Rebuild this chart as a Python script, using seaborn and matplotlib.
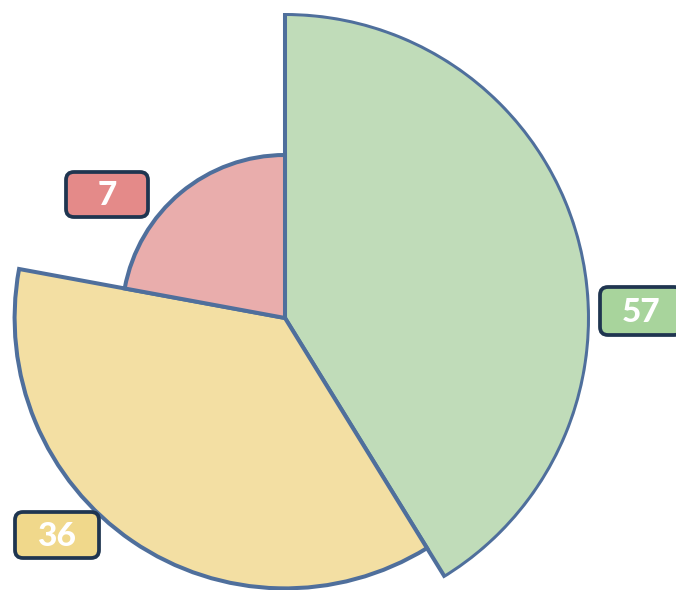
import numpy as np
import matplotlib
matplotlib.use("Agg")
import matplotlib.pyplot as plt
from matplotlib.patches import FancyBboxPatch
import seaborn as sns

# data
labels = ["57", "36", "7"]
z_values = [57, 36, 7]            # drives the radius
angle_shares = [41.2, 36.7, 22.1]  # drives the sector width
fill_colors = ["#c0dcb9", "#f3dfa3", "#e9adac"]
box_colors = ["#a8d49c", "#f0d88b", "#e48a89"]

sns.set_theme(style="white")
plt.rcParams["font.family"] = ["Lato", "DejaVu Sans"]

W, H = 676, 590
fig = plt.figure(figsize=(W / 100, H / 100), dpi=100)
fig.patch.set_facecolor("white")

# polar axes centred at (285, 318) px, outer radius 305 px
cx, cy, R = 285, 318, 305
ax = fig.add_axes([(cx - R) / W, (H - cy - R) / H, 2 * R / W, 2 * R / H],
                  projection="polar")
ax.set_theta_zero_location("N")
ax.set_theta_direction(-1)

r_min, r_max = 163, 304
z = np.array(z_values, dtype=float)
radii = r_min + np.sqrt((z - z.min()) / (z.max() - z.min())) * (r_max - r_min)

shares = np.array(angle_shares)
widths = shares / shares.sum() * 2 * np.pi
starts = np.concatenate([[0], np.cumsum(widths)[:-1]])

bars = ax.bar(starts, radii, width=widths, bottom=0, align="edge",
              color=fill_colors, edgecolor="#4f6f9c", linewidth=2.9)
for b in bars:
    b.set_joinstyle("miter")

ax.set_ylim(0, R)
ax.set_axis_off()

# overlay for the value boxes, in pixel coordinates
ov = fig.add_axes([0, 0, 1, 1])
ov.set_xlim(0, W)
ov.set_ylim(H, 0)
ov.set_axis_off()
ov.patch.set_alpha(0)

box_pos = [(600, 287, 82, 48), (15, 512, 84, 46), (66, 172, 82, 45)]
for (x, y, w, h), lab, col in zip(box_pos, labels, box_colors):
    ov.add_patch(FancyBboxPatch((x, y), w, h,
                                boxstyle="round,pad=0,rounding_size=8",
                                facecolor=col, edgecolor="#1f3550",
                                linewidth=2.7, clip_on=False))
    ov.text(x + w / 2, y + h / 2 + 1, lab, color="white", fontsize=24,
            fontweight="black", ha="center", va="center")

fig.savefig("out.png", dpi=100)
